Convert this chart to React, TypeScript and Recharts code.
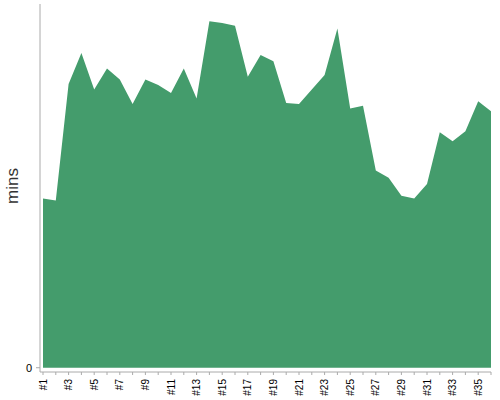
import React from 'react';
import { AreaChart, Area, XAxis, YAxis, Label } from 'recharts';

const sessions = [
  '#1', '#2', '#3', '#4', '#5', '#6', '#7', '#8', '#9', '#10', '#11', '#12',
  '#13', '#14', '#15', '#16', '#17', '#18', '#19', '#20', '#21', '#22', '#23', '#24',
  '#25', '#26', '#27', '#28', '#29', '#30', '#31', '#32', '#33', '#34', '#35', '#36',
];

const minutes = [
  18.6, 18.4, 31.2, 34.6, 30.6, 32.9, 31.7, 29.0, 31.7, 31.1, 30.2, 32.9,
  29.6, 38.1, 37.9, 37.6, 32.0, 34.4, 33.7, 29.1, 29.0, 30.6, 32.2, 37.3,
  28.5, 28.8, 21.7, 20.9, 18.9, 18.6, 20.2, 25.9, 24.9, 26.0, 29.3, 28.2,
];

const yTicks = [0];

const data = sessions.map((s, i) => ({ session: s, mins: minutes[i] }));

const font = 'Liberation Sans, Arial, sans-serif';

// only every other session gets a label, but every one gets a tick mark
const SessionTick = (props: any) => {
  const { x, y, payload, index } = props;
  if (index % 2 !== 0) return null;
  const ty = y + 2;
  return (
    <text
      x={x}
      y={ty}
      dy="0.35em"
      textAnchor="end"
      transform={`rotate(-90, ${x}, ${ty})`}
      fontSize={10}
      fontFamily={font}
      fill="#000"
    >
      {payload.value}
    </text>
  );
};

const MinsLabel = (props: any) => {
  const vb = props.viewBox || {};
  const cx = (vb.x || 0) + 12;
  const cy = (vb.y || 0) + (vb.height || 0) / 2 - 2;
  return (
    <text
      x={cx}
      y={cy}
      dy="0.35em"
      textAnchor="middle"
      transform={`rotate(-90, ${cx}, ${cy})`}
      fontSize={17}
      fontFamily={font}
      fill="#333"
    >
      mins
    </text>
  );
};

export default function App() {
  return (
    <div style={{ position: 'absolute', left: 0, top: 0, width: 500, height: 400, background: '#fff' }}>
      <AreaChart width={500} height={400} data={data} margin={{ top: 4, right: 9, bottom: 0, left: 0 }}>
        <XAxis
          dataKey="session"
          interval={0}
          padding={{ left: 3, right: 0 }}
          height={28}
          tickSize={3}
          stroke="#aaa"
          tick={<SessionTick />}
        />
        <YAxis
          width={40}
          domain={[-0.47, 40]}
          ticks={yTicks}
          tickSize={4}
          tickMargin={4}
          stroke="#aaa"
          tick={{ fill: '#000', fontSize: 11, fontFamily: font }}
        >
          <Label content={<MinsLabel />} />
        </YAxis>
        <Area
          type="linear"
          dataKey="mins"
          stroke="none"
          fill="#449c6c"
          fillOpacity={1}
          isAnimationActive={false}
        />
      </AreaChart>
    </div>
  );
}
